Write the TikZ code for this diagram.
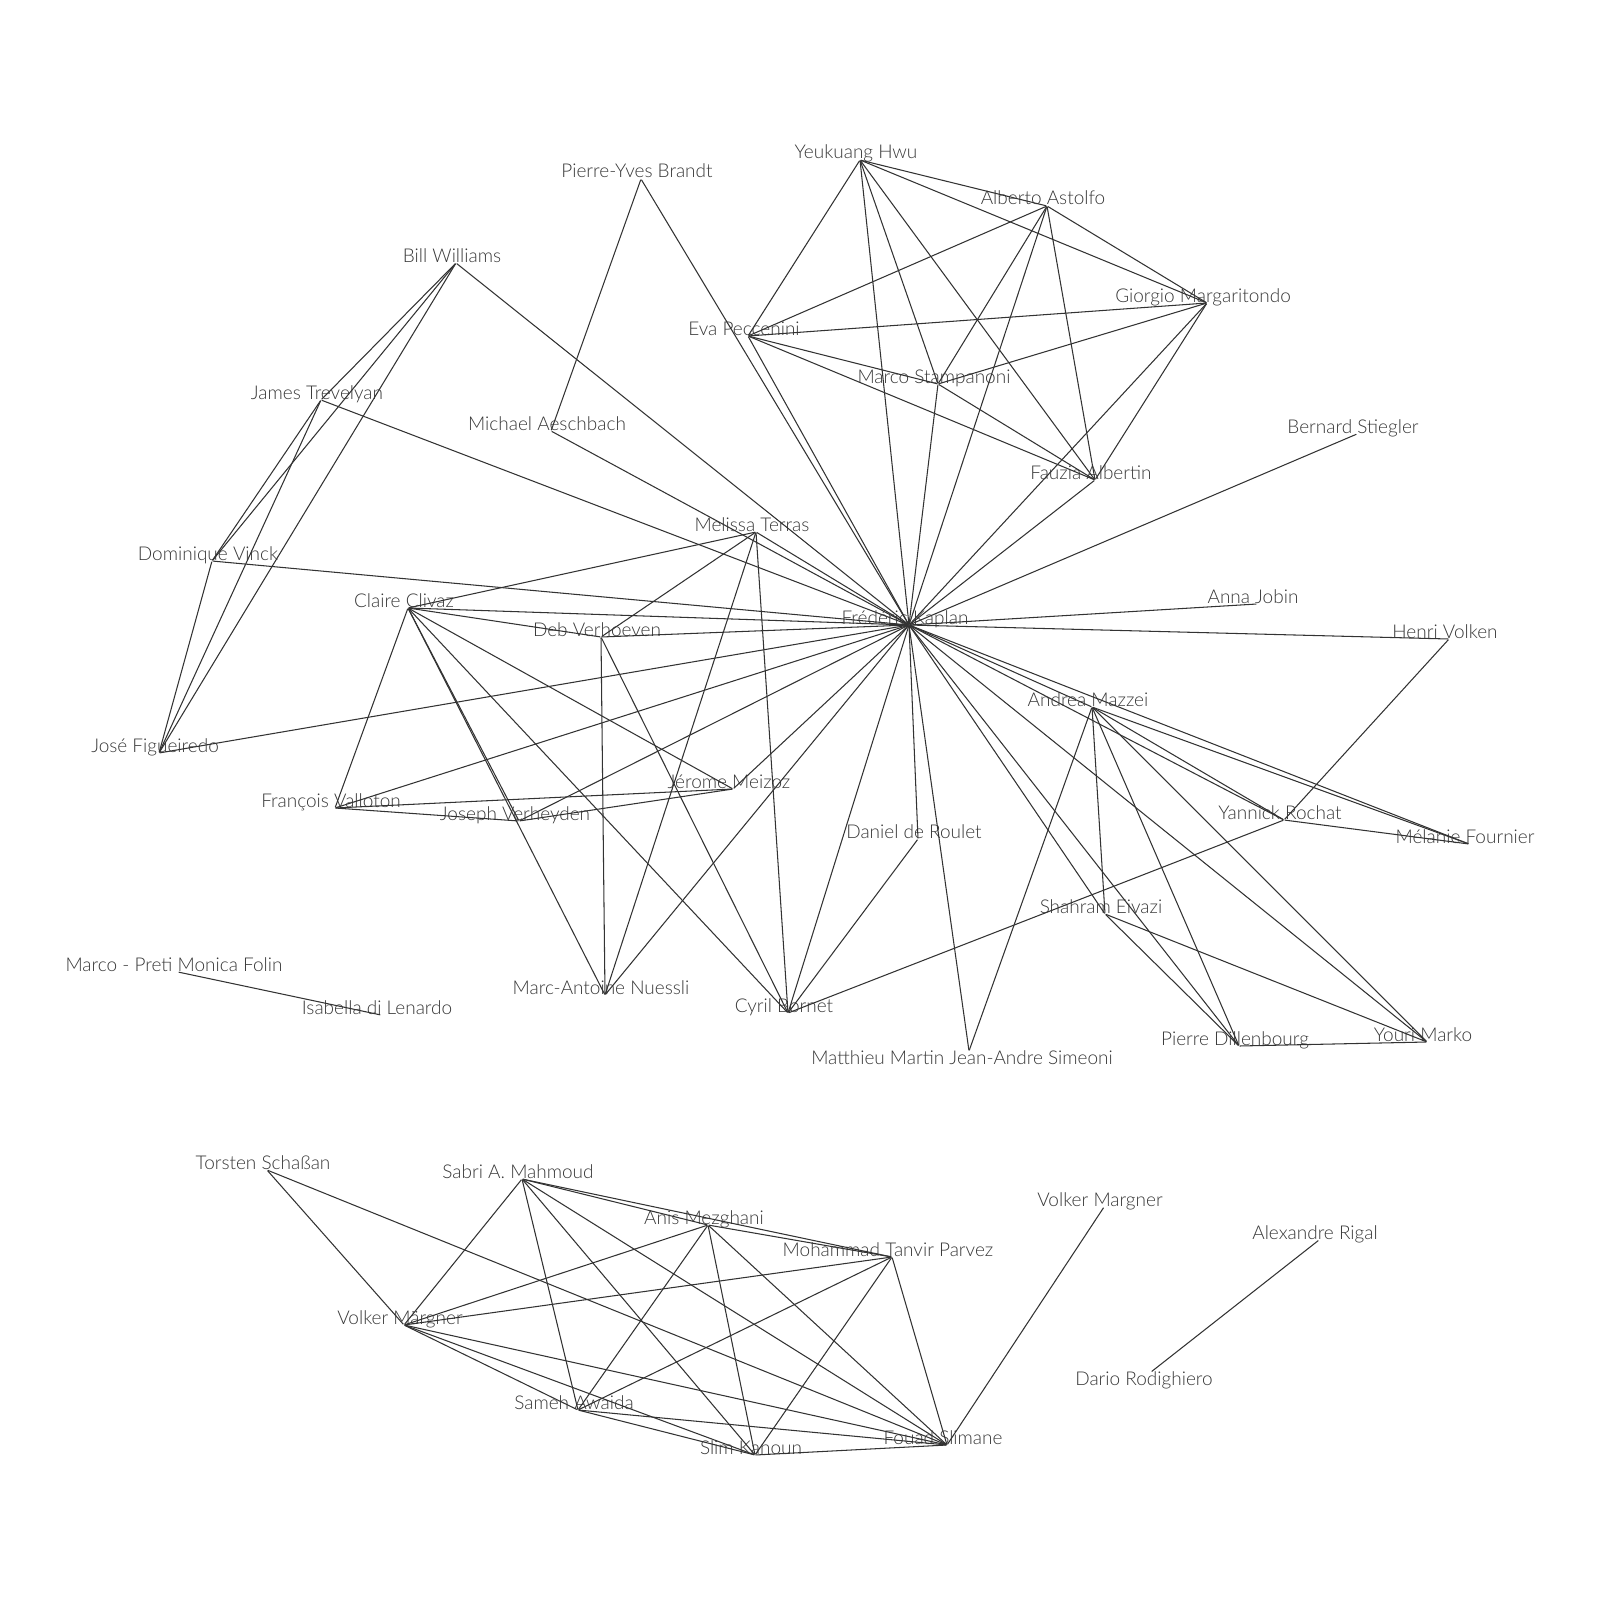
\documentclass[tikz,border=0pt]{standalone}
\usepackage{fontspec}
\setmainfont{Lato Light}
\begin{document}
\begin{tikzpicture}[x=0.01cm,y=-0.01cm,
  vtx/.style={inner sep=0pt,minimum size=0pt},
  lbl/.style={anchor=base,inner sep=0pt,text=black!78,font=\fontsize{5.4}{6}\selectfont},
  tie/.style={draw=black!80,line width=0.3pt}]
\useasboundingbox (0,0) rectangle (1600,1600);
% people: name/x/y/label (label sits on the point)
\foreach \n/\x/\y/\t in {
  brandt/641/179/{Pierre-Yves Brandt},hwu/860/160/{Yeukuang Hwu},astolfo/1047/206/{Alberto Astolfo},
  williams/456/263/{Bill Williams},giorgio/1207/303/{Giorgio Margaritondo},eva/748/336/{Eva Peccenini},
  stampa/938/384/{Marco Stampanoni},trevelyan/321/400/{James Trevelyan},aeschbach/551/431/{Michael Aeschbach},
  stiegler/1357/434/{Bernard Stiegler},albertin/1095/480/{Fauzia Albertin},terras/756/532/{Melissa Terras},
  vinck/212/561/{Dominique Vinck},clivaz/408/608/{Claire Clivaz},kaplan/909/625/{Frédéric Kaplan},
  jobin/1257/604/{Anna Jobin},verhoeven/601/637/{Deb Verhoeven},volken/1449/639/{Henri Volken},
  mazzei/1092/707/{Andrea Mazzei},figueiredo/159/753/{José Figueiredo},meizoz/733/789/{Jérome Meizoz},
  valloton/335/808/{François Valloton},verheyden/519/821/{Joseph Verheyden},rochat/1284/820/{Yannick Rochat},
  roulet/918/839/{Daniel de Roulet},fournier/1469/844/{Mélanie Fournier},eivazi/1105/914/{Shahram Eivazi},
  folin/178/972/{Marco - Preti Monica Folin},nuessli/605/995/{Marc-Antoine Nuessli},lenardo/381/1015/{Isabella di Lenardo},
  bornet/788/1013/{Cyril Bornet},dillenbourg/1239/1046/{Pierre Dillenbourg},marko/1427/1042/{Youri Marko},
  schassan/267/1170/{Torsten Schaßan},mahmoud/522/1179/{Sabri A. Mahmoud},margnerb/1104/1207/{Volker Margner},
  mezghani/708/1225/{Anis Mezghani},rigal/1319/1240/{Alexandre Rigal},parvez/892/1257/{Mohammad Tanvir Parvez},
  margner/404/1325/{Volker Märgner},awaida/578/1410/{Sameh Awaida},
  slimane/947/1445/{Fouad Slimane},kanoun/755/1455/{Slim Kanoun}}{
  \node[vtx] (\n) at (\x,\y) {};
  \node[lbl] (\n-l) at ([shift={(-4,-1)}]\n) {\t};
}
% these two hang below their point
\foreach \n/\x/\y/\t in {simeoni/969/1051/{Matthieu Martin Jean-Andre Simeoni},
  rodighiero/1151/1372/{Dario Rodighiero}}{
  \node[vtx] (\n) at (\x,\y) {};
  \node[lbl] (\n-l) at ([shift={(-7,13)}]\n) {\t};
}
% co-authorships
\foreach \a/\bs in {
  hwu/{astolfo,giorgio,eva,stampa,albertin,kaplan},astolfo/{giorgio,eva,stampa,albertin,kaplan},
  giorgio/{eva,stampa,albertin,kaplan},eva/{stampa,albertin,kaplan},stampa/{albertin,kaplan},albertin/{kaplan},
  brandt/{aeschbach,kaplan},aeschbach/{kaplan},stiegler/{kaplan},
  williams/{trevelyan,vinck,figueiredo,kaplan},trevelyan/{vinck,figueiredo,kaplan},
  vinck/{figueiredo,kaplan},figueiredo/{kaplan},
  terras/{clivaz,verhoeven,nuessli,bornet,kaplan},
  clivaz/{kaplan,verhoeven,valloton,verheyden,nuessli,bornet,meizoz},
  verhoeven/{kaplan,nuessli,bornet},meizoz/{valloton,verheyden,kaplan},
  valloton/{verheyden,kaplan},verheyden/{kaplan},nuessli/{kaplan},
  bornet/{kaplan,roulet,rochat},roulet/{kaplan},jobin/{kaplan},volken/{kaplan,rochat},
  mazzei/{kaplan,fournier,rochat,eivazi,dillenbourg,marko,simeoni},
  kaplan/{fournier,rochat,marko,dillenbourg,eivazi,simeoni},
  rochat/{fournier},eivazi/{dillenbourg,marko},dillenbourg/{marko},folin/{lenardo},
  mahmoud/{mezghani,parvez,margner,awaida,kanoun,slimane},
  mezghani/{parvez,margner,awaida,kanoun,slimane},parvez/{margner,awaida,kanoun,slimane},
  margner/{awaida,kanoun,slimane,schassan},awaida/{kanoun,slimane},kanoun/{slimane},
  schassan/{slimane},slimane/{margnerb},rigal/{rodighiero}}{
  \foreach \b in \bs {\draw[tie] (\a) -- (\b);}
}
\end{tikzpicture}
\end{document}
